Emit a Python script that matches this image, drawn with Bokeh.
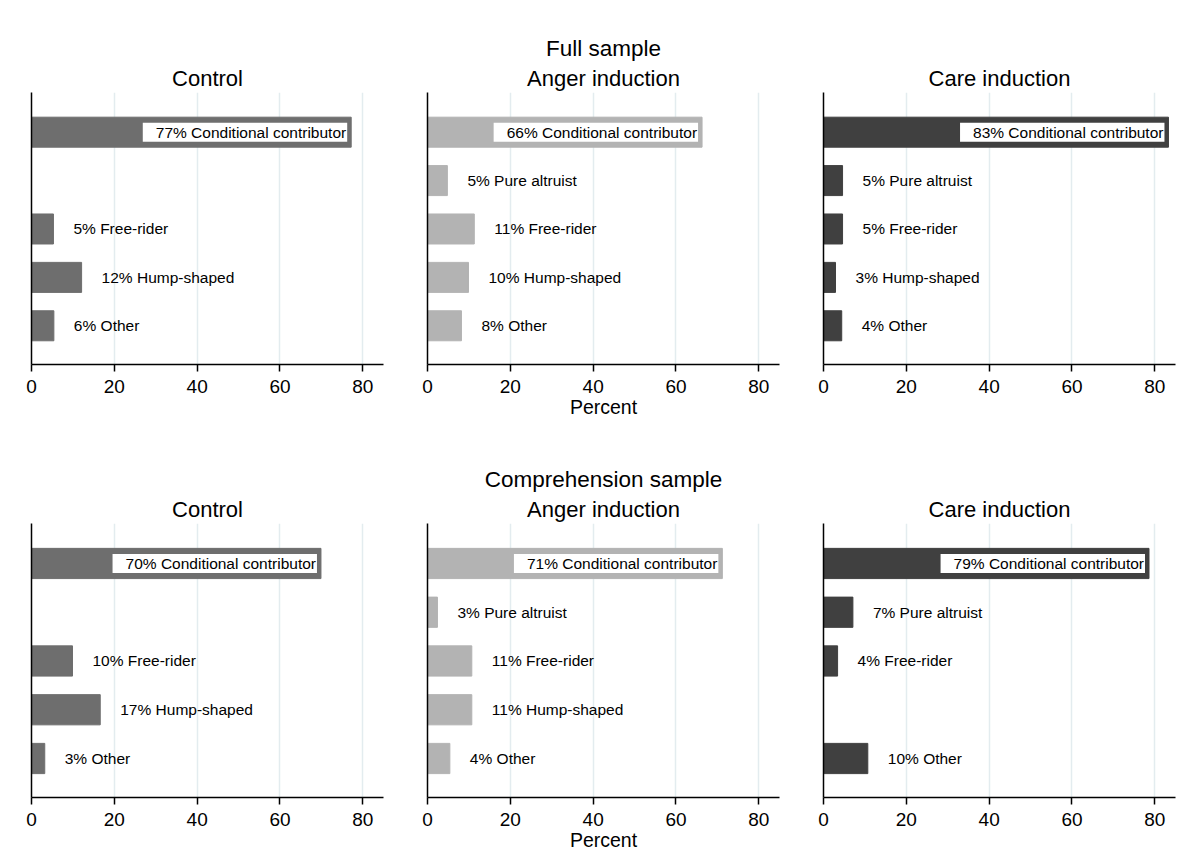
from bokeh.plotting import figure
from bokeh.layouts import column, row
from bokeh.models import ColumnDataSource, FixedTicker, Title
from bokeh.core.properties import value
from bokeh.embed import file_html
from bokeh.resources import INLINE

categories = ["Conditional contributor", "Pure altruist", "Free-rider", "Hump-shaped", "Other"]
treatments = ["Control", "Anger induction", "Care induction"]
samples = ["Full sample", "Comprehension sample"]
x_ticks = [0, 20, 40, 60, 80]

# bar lengths (percent); None = type not present
full_control = [77.2, None, 5.3, 12.1, 5.4]
full_anger = [66.3, 4.8, 11.3, 9.9, 8.2]
full_care = [83.3, 4.6, 4.6, 2.9, 4.4]
comp_control = [69.9, None, 9.9, 16.6, 3.2]
comp_anger = [71.2, 2.4, 10.7, 10.7, 5.4]
comp_care = [78.6, 7.1, 3.4, None, 10.7]

# printed percentages in the labels
full_control_pct = [77, None, 5, 12, 6]
full_anger_pct = [66, 5, 11, 10, 8]
full_care_pct = [83, 5, 5, 3, 4]
comp_control_pct = [70, None, 10, 17, 3]
comp_anger_pct = [71, 3, 11, 11, 4]
comp_care_pct = [79, 7, 4, None, 10]

bar_colors = ["#6e6e6e", "#b3b3b3", "#404040"]
FONT = "Liberation Sans"

panels = [
    [full_control, full_anger, full_care],
    [comp_control, comp_anger, comp_care],
]
panel_pcts = [
    [full_control_pct, full_anger_pct, full_care_pct],
    [comp_control_pct, comp_anger_pct, comp_care_pct],
]

widths = [404, 396, 381]
lefts = [31, 23, 23]
rights = [21, 21, 6]
heights = [440, 420]
tops = [92, 83]
bottoms = [76, 63]


def make_panel(vals, pcts, color, title, suptitle, xlabel, w, left, right, h, top, bottom):
    p = figure(width=w, height=h, x_range=(0, 85), y_range=(0.2, 5.82),
               output_backend="svg", toolbar_location=None, title=None,
               min_border_left=left, min_border_right=right,
               min_border_top=top, min_border_bottom=bottom)
    p.outline_line_color = None
    p.background_fill_color = "white"
    p.border_fill_color = "white"

    ys, vs, lbls = [], [], []
    for i, (c, v, pc) in enumerate(zip(categories, vals, pcts)):
        if v is None:
            continue
        ys.append(len(categories) - i)
        vs.append(v)
        lbls.append(f"{pc}% {c}")
    src = ColumnDataSource(dict(y=ys, v=vs, lbl=lbls))
    p.hbar(y="y", left=0, right="v", height=0.62, source=src,
           fill_color=color, line_color=color, line_width=1)

    inside = [k for k in range(len(vs)) if vs[k] > 40]
    outside = [k for k in range(len(vs)) if vs[k] <= 40]
    src_in = ColumnDataSource(dict(y=[ys[k] for k in inside], v=[vs[k] for k in inside],
                                   lbl=[lbls[k] for k in inside]))
    src_out = ColumnDataSource(dict(y=[ys[k] for k in outside], v=[vs[k] for k in outside],
                                    lbl=[lbls[k] for k in outside]))
    p.text(x="v", y="y", text="lbl", source=src_in, text_align="right",
           text_baseline="middle", x_offset=-4, text_font=value(FONT),
           text_font_size="15.5px", text_color="black",
           background_fill_color="white",
           padding=dict(left=13, right=1, top=1, bottom=1))
    p.text(x="v", y="y", text="lbl", source=src_out, text_align="left",
           text_baseline="middle", x_offset=20, text_font=value(FONT),
           text_font_size="15.5px", text_color="black")

    p.xaxis.ticker = FixedTicker(ticks=x_ticks)
    p.xaxis.major_label_text_font = FONT
    p.xaxis.major_label_text_font_size = "19px"
    p.xaxis.major_label_text_color = "black"
    p.xaxis.axis_line_color = "black"
    p.xaxis.axis_line_width = 1.5
    p.xaxis.major_tick_line_color = "black"
    p.xaxis.major_tick_line_width = 1.5
    p.xaxis.major_tick_out = 7
    p.xaxis.major_tick_in = 0
    p.xaxis.minor_tick_line_color = None
    p.xaxis.major_label_standoff = 8
    if xlabel:
        p.xaxis.axis_label = xlabel
        p.xaxis.axis_label_text_font = FONT
        p.xaxis.axis_label_text_font_size = "19.5px"
        p.xaxis.axis_label_text_font_style = "normal"
        p.xaxis.axis_label_text_color = "black"
        p.xaxis.axis_label_standoff = 0

    p.yaxis.ticker = FixedTicker(ticks=[])
    p.yaxis.axis_line_color = "black"
    p.yaxis.axis_line_width = 1.5
    p.yaxis.major_tick_line_color = None
    p.yaxis.minor_tick_line_color = None
    p.yaxis.major_tick_out = 0
    p.yaxis.major_label_standoff = 0
    p.yaxis.major_label_text_font_size = "0px"

    p.xgrid.ticker = FixedTicker(ticks=x_ticks[1:])
    p.xgrid.grid_line_color = "#e3ecef"
    p.xgrid.grid_line_width = 1.5
    p.ygrid.grid_line_color = None

    p.add_layout(Title(text=title, align="center", text_font=FONT, text_font_size="22px",
                       text_font_style="normal", text_color="black", standoff=4), "above")
    if suptitle:
        p.add_layout(Title(text=suptitle, align="center", text_font=FONT, text_font_size="22.5px",
                           text_font_style="normal", text_color="black", standoff=2), "above")
    return p


rows = []
for r in range(2):
    figs = []
    for c in range(3):
        figs.append(make_panel(panels[r][c], panel_pcts[r][c], bar_colors[c], treatments[c],
                               samples[r] if c == 1 else None,
                               "Percent" if c == 1 else None,
                               widths[c], lefts[c], rights[c], heights[r], tops[r], bottoms[r]))
    rows.append(row(*figs, spacing=0))

layout = column(*rows, spacing=0)
open("out.html", "w").write(file_html(layout, INLINE))
